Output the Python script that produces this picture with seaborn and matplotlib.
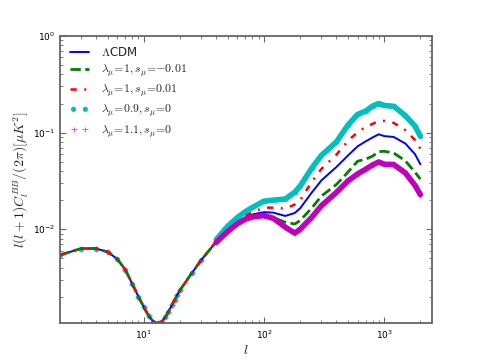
import numpy as np
import pandas as pd
import matplotlib
matplotlib.use('Agg')
import matplotlib.pyplot as plt
import seaborn as sns

# multipoles and l(l+1)C_l^BB/(2pi)
ell = [2, 3, 4, 5, 6, 7, 8, 9, 10, 11, 12, 13, 14, 15, 16, 17, 18, 19, 20, 25, 30,
       40, 50, 60, 70, 80, 100, 120, 150, 180, 200, 250, 300, 400, 500, 600, 700,
       800, 900, 1000, 1200, 1500, 1800, 2000]

lcdm = [5.4e-3, 6.3e-3, 6.3e-3, 5.8e-3, 4.9e-3, 3.8e-3, 2.7e-3, 2.0e-3, 1.55e-3, 1.25e-3,
        1.1e-3, 1.06e-3, 1.1e-3, 1.22e-3, 1.4e-3, 1.62e-3, 1.85e-3, 2.1e-3, 2.35e-3, 3.5e-3, 4.8e-3,
        7.4e-3, 9.8e-3, 1.18e-2, 1.32e-2, 1.42e-2, 1.5e-2, 1.48e-2, 1.37e-2, 1.47e-2, 1.65e-2,
        2.4e-2, 3.2e-2, 4.4e-2, 5.8e-2, 7.2e-2, 8.1e-2, 8.9e-2, 9.6e-2, 9.2e-2, 9.0e-2,
        7.7e-2, 6.0e-2, 4.7e-2]

s_minus = [5.4e-3, 6.3e-3, 6.3e-3, 5.8e-3, 4.9e-3, 3.8e-3, 2.7e-3, 2.0e-3, 1.55e-3, 1.25e-3,
           1.1e-3, 1.06e-3, 1.1e-3, 1.22e-3, 1.4e-3, 1.62e-3, 1.85e-3, 2.1e-3, 2.35e-3, 3.5e-3, 4.8e-3,
           7.4e-3, 9.6e-3, 1.15e-2, 1.28e-2, 1.36e-2, 1.41e-2, 1.32e-2, 1.18e-2, 1.13e-2, 1.23e-2,
           1.66e-2, 2.2e-2, 2.9e-2, 3.9e-2, 5.05e-2, 5.3e-2, 5.7e-2, 6.35e-2, 6.4e-2, 6.15e-2,
           5.1e-2, 3.9e-2, 3.3e-2]

s_plus = [5.4e-3, 6.3e-3, 6.3e-3, 5.8e-3, 4.9e-3, 3.8e-3, 2.7e-3, 2.0e-3, 1.55e-3, 1.25e-3,
          1.1e-3, 1.06e-3, 1.1e-3, 1.22e-3, 1.4e-3, 1.62e-3, 1.85e-3, 2.1e-3, 2.35e-3, 3.5e-3, 4.8e-3,
          7.5e-3, 1.01e-2, 1.22e-2, 1.38e-2, 1.5e-2, 1.67e-2, 1.67e-2, 1.63e-2, 1.8e-2, 2.0e-2,
          3.1e-2, 4.2e-2, 5.9e-2, 8.2e-2, 0.101, 0.114, 0.123, 0.132, 0.132, 0.126,
          0.106, 0.084, 0.068]

lam09 = [5.4e-3, 6.3e-3, 6.3e-3, 5.8e-3, 4.9e-3, 3.8e-3, 2.7e-3, 2.0e-3, 1.55e-3, 1.25e-3,
         1.1e-3, 1.06e-3, 1.1e-3, 1.22e-3, 1.4e-3, 1.62e-3, 1.85e-3, 2.1e-3, 2.35e-3, 3.5e-3, 4.8e-3,
         7.8e-3, 1.08e-2, 1.32e-2, 1.52e-2, 1.68e-2, 1.95e-2, 2.0e-2, 2.05e-2, 2.41e-2, 2.8e-2,
         4.3e-2, 5.8e-2, 8.0e-2, 0.12, 0.154, 0.167, 0.188, 0.2, 0.191, 0.187,
         0.15, 0.117, 0.092]

lam11 = [5.4e-3, 6.3e-3, 6.3e-3, 5.8e-3, 4.9e-3, 3.8e-3, 2.7e-3, 2.0e-3, 1.55e-3, 1.25e-3,
         1.1e-3, 1.06e-3, 1.1e-3, 1.22e-3, 1.4e-3, 1.62e-3, 1.85e-3, 2.1e-3, 2.35e-3, 3.5e-3, 4.8e-3,
         7.3e-3, 9.5e-3, 1.14e-2, 1.27e-2, 1.34e-2, 1.38e-2, 1.29e-2, 1.05e-2, 9.1e-3, 1.0e-2,
         1.33e-2, 1.75e-2, 2.4e-2, 3.16e-2, 3.73e-2, 4.17e-2, 4.62e-2, 4.96e-2, 4.7e-2, 4.67e-2,
         3.82e-2, 2.85e-2, 2.28e-2]

labels = [r'$\Lambda$CDM', r'$\lambda_\mu\!=\!1,s_\mu\!=\!{-}0.01$', r'$\lambda_\mu\!=\!1,s_\mu\!=\!0.01$',
          r'$\lambda_\mu\!=\!0.9,s_\mu\!=\!0$', r'$\lambda_\mu\!=\!1.1,s_\mu\!=\!0$']

sns.set_style('ticks')
plt.rcParams['mathtext.fontset'] = 'cm'
plt.rcParams['font.family'] = ['DejaVu Sans']

fig, ax = plt.subplots(figsize=(4.8, 3.6), dpi=100)
fig.subplots_adjust(left=0.125, right=0.9, bottom=0.102, top=0.9)

sns.lineplot(x=ell, y=lcdm, ax=ax, color='b', lw=1.4, label=labels[0])
sns.lineplot(x=ell, y=s_minus, ax=ax, color='g', lw=2, linestyle='--', label=labels[1])
sns.lineplot(x=ell, y=s_plus, ax=ax, color='r', lw=1.8, linestyle=(0, (2.5, 3, 0.8, 3)), label=labels[2])

# dense markers merge into a thick band at high l
hi = slice(21, None)
sns.lineplot(x=ell[hi], y=lam09[hi], ax=ax, color='c', lw=4, legend=False)
sns.scatterplot(x=ell, y=lam09, ax=ax, color='c', marker='o', s=14, linewidth=0, label=labels[3])
sns.lineplot(x=ell[hi], y=lam11[hi], ax=ax, color='m', lw=4, legend=False)
sns.scatterplot(x=ell, y=lam11, ax=ax, color='#dd55dd', marker='+', s=18, linewidth=0.7,
                label=labels[4])

ax.set_xscale('log')
ax.set_yscale('log')
ax.set_xlim(2, 2500)
ax.set_ylim(1.06e-3, 1)

ax.set_xlabel(r'$l$', fontsize=10, labelpad=2)
ax.set_ylabel(r'$l(l+1)C_l^{BB}/(2\pi)[\mu K^2]$', fontsize=10, labelpad=1)

for s in ax.spines.values():
    s.set_color('0.4')
    s.set_linewidth(1.3)
ax.tick_params(which='both', direction='in', top=True, right=True, colors='0.4',
               labelcolor='black', labelsize=6.5)
ax.tick_params(which='major', length=4)
ax.tick_params(which='minor', length=2)

ax.legend(loc='upper left', frameon=False, fontsize=8.5, handlelength=1.6, scatterpoints=2,
          scatteryoffsets=[0.5], handletextpad=1.0, labelspacing=0.3, borderaxespad=0.45)

fig.savefig('out.png', dpi=100)
